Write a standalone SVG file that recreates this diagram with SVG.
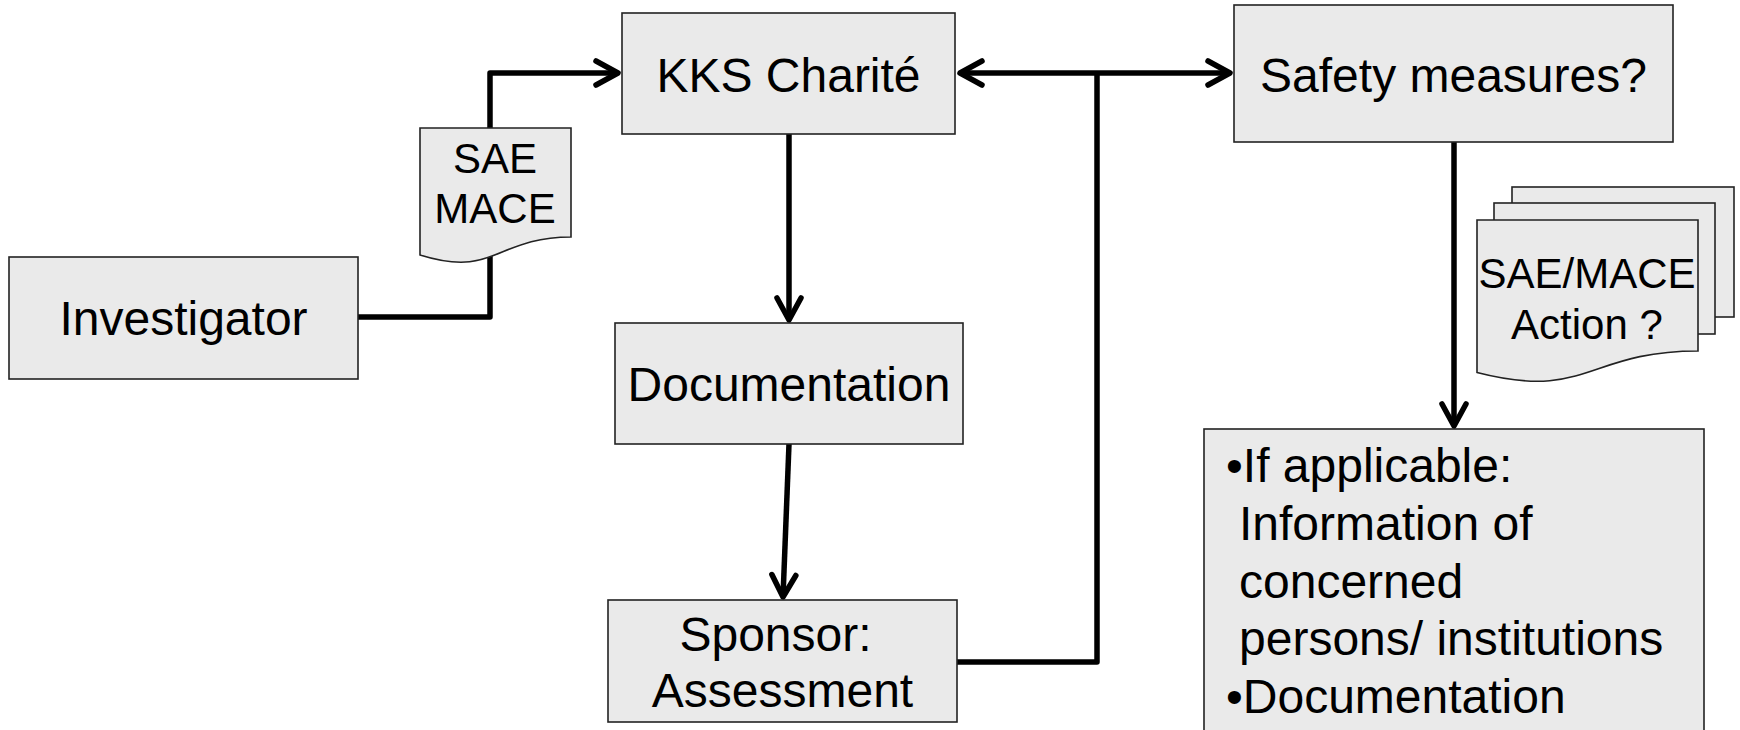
<svg xmlns="http://www.w3.org/2000/svg" width="1740" height="730" viewBox="0 0 1740 730">
<style>
.box{fill:#eaeaea;stroke:#222;stroke-width:1.6}
.t{font-family:"Liberation Sans",Arial,sans-serif;font-size:48px;fill:#000}
.s{font-family:"Liberation Sans",Arial,sans-serif;font-size:42px;fill:#000}
.c{fill:none;stroke:#000;stroke-width:5.5;stroke-linejoin:round}
</style>
<defs>
<marker id="ah" markerUnits="userSpaceOnUse" markerWidth="40" markerHeight="40" viewBox="-30 -20 40 40" refX="0" refY="0" orient="auto-start-reverse">
<path d="M-22,-12 L0,0 L-22,12" fill="none" stroke="#000" stroke-width="5.5" stroke-linecap="round" stroke-linejoin="round"/>
</marker>
</defs>
<rect width="1740" height="730" fill="#fff"/>
<g id="connectors">
<path class="c" d="M358,317 H490 V73 H618" marker-end="url(#ah)"/>
<path class="c" d="M789,134 V320" marker-end="url(#ah)"/>
<path class="c" d="M789,444 L783,597" marker-end="url(#ah)"/>
<path class="c" d="M960,73 H1230" marker-start="url(#ah)" marker-end="url(#ah)"/>
<path class="c" d="M957,662 H1097 V73"/>
<path class="c" d="M1454,142 V426" marker-end="url(#ah)"/>
</g>
<g id="investigator">
<rect class="box" x="9" y="257" width="349" height="122"/>
<text class="t" x="183.5" y="335" text-anchor="middle">Investigator</text>
</g>
<g id="sae-mace">
<path class="box" d="M420,128 H571 V237 C495.5,237 495.5,278.6 420,255 Z"/>
<text class="s" x="495" y="173" text-anchor="middle">SAE</text>
<text class="s" x="495" y="223" text-anchor="middle">MACE</text>
</g>
<g id="kks">
<rect class="box" x="622" y="13" width="333" height="121"/>
<text class="t" x="788.5" y="92" text-anchor="middle">KKS Charité</text>
</g>
<g id="documentation">
<rect class="box" x="615" y="323" width="348" height="121"/>
<text class="t" x="789" y="401" text-anchor="middle">Documentation</text>
</g>
<g id="sponsor">
<rect class="box" x="608" y="600" width="349" height="122"/>
<text class="t" x="775.5" y="651" text-anchor="middle">Sponsor:</text>
<text class="t" x="782.5" y="707" text-anchor="middle">Assessment</text>
</g>
<g id="safety">
<rect class="box" x="1234" y="5" width="439" height="137"/>
<text class="t" x="1453.5" y="92" text-anchor="middle">Safety measures?</text>
</g>
<g id="sae-mace-action">
<rect class="box" x="1512" y="187" width="222" height="130"/>
<rect class="box" x="1494" y="203" width="221" height="131"/>
<path class="box" d="M1477,220 H1698 V351 C1587.5,351 1587.5,400.9 1477,372.5 Z"/>
<text class="s" x="1587" y="288" text-anchor="middle">SAE/MACE</text>
<text class="s" x="1587" y="339" text-anchor="middle">Action ?</text>
</g>
<g id="measures">
<rect class="box" x="1204" y="429" width="500" height="320"/>
<text class="t" x="1226" y="482">•If applicable:</text>
<text class="t" x="1239" y="540">Information of</text>
<text class="t" x="1239" y="598">concerned</text>
<text class="t" x="1239" y="655">persons/ institutions</text>
<text class="t" x="1226" y="713">•Documentation</text>
</g>
</svg>
